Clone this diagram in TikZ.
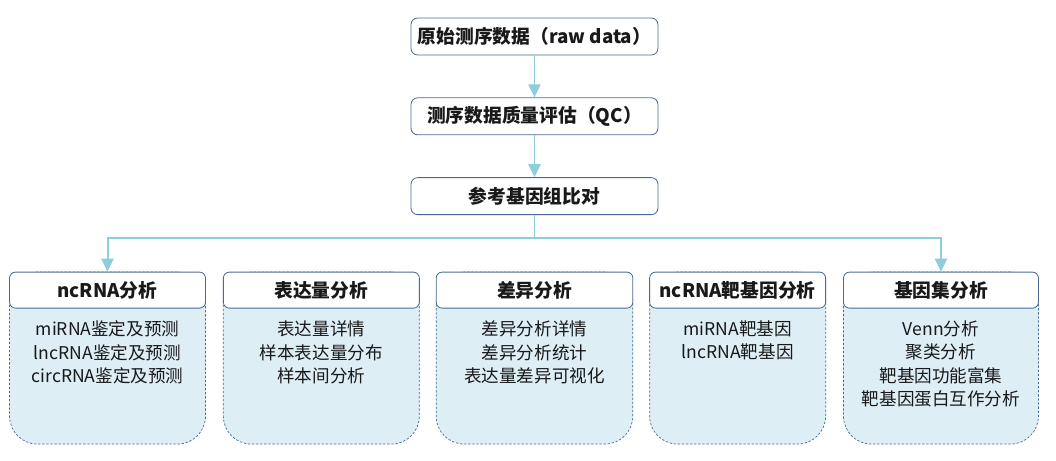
\documentclass[tikz,border=0pt]{standalone}
\usepackage{fontspec}
\setmainfont{Noto Sans CJK SC}
\usetikzlibrary{positioning, arrows.meta, backgrounds}
\definecolor{boxblue}{RGB}{74,106,150}
\definecolor{bodyfill}{RGB}{221,238,245}
\definecolor{lineblue}{RGB}{142,205,220}
\begin{document}
\begin{tikzpicture}[
        topbox/.style = {draw=boxblue, fill=white, line width=0.7pt, minimum height=1.11cm, minimum width=7.41cm, rounded corners=0.2cm, font=\fontsize{16pt}{20pt}\selectfont\bfseries, text=black!90},%
        head/.style = {draw=boxblue, fill=white, line width=0.7pt, minimum height=1.08cm, rounded corners=0.18cm, font=\fontsize{16pt}{20pt}\selectfont\bfseries, text=black!90},%
        body/.style = {draw=boxblue, fill=bodyfill, line width=0.6pt, dash pattern=on 2pt off 1.5pt, minimum height=5.16cm, rounded corners=0.84cm, anchor=north},%
        list/.style = {inner sep=0pt, align=center, font=\fontsize{15pt}{20pt}\selectfont, text=black!90},%
        link/.style = {draw=lineblue, line width=1.7pt},%
        flow/.style = {link, -{Triangle[length=0.39cm, width=0.36cm]}}%
    ]%
        \useasboundingbox (-16.035,1.095) rectangle (15.645,-12.735);
        \node[topbox] (raw) at (0,0) {原始测序数据（raw data）};
        \node[topbox, below=1.26cm of raw] (qc) {测序数据质量评估（QC）};
        \node[topbox, below=1.26cm of qc] (ref) {参考基因组比对};
        \coordinate[below=0.7cm of ref.south] (split);
        \node[head, minimum width=5.9cm, below=1.7cm of ref] (h3) {差异分析};
        \node[head, minimum width=5.88cm, left=0.48cm of h3] (h2) {表达量分析};
        \node[head, minimum width=5.88cm, left=0.51cm of h2] (h1) {ncRNA分析};
        \node[head, minimum width=5.28cm, right=0.48cm of h3] (h4) {ncRNA靶基因分析};
        \node[head, minimum width=5.85cm, right=0.51cm of h4] (h5) {基因集分析};
        \begin{scope}[on background layer]
            \node[body, minimum width=5.88cm] (b1) at (h1.north) {};
            \node[body, minimum width=5.88cm] (b2) at (h2.north) {};
            \node[body, minimum width=5.9cm] (b3) at (h3.north) {};
            \node[body, minimum width=5.28cm] (b4) at (h4.north) {};
            \node[body, minimum width=5.85cm] (b5) at (h5.north) {};
        \end{scope}
        \node[list, below=0.36cm of h1] (t1) {miRNA鉴定及预测\\lncRNA鉴定及预测\\circRNA鉴定及预测};
        \node[list, below=0.36cm of h2] (t2) {表达量详情\\样本表达量分布\\样本间分析};
        \node[list, below=0.36cm of h3] (t3) {差异分析详情\\差异分析统计\\表达量差异可视化};
        \node[list, below=0.36cm of h4] (t4) {miRNA靶基因\\lncRNA靶基因};
        \node[list, below=0.36cm of h5] (t5) {Venn分析\\聚类分析\\靶基因功能富集\\靶基因蛋白互作分析};
        \draw[flow] (raw) -- (qc);
        \draw[flow] (qc) -- (ref);
        \draw[link] (ref) -- (split);
        \draw[flow] (split) -| (h1);
        \draw[flow] (split) -| (h5);
    \end{tikzpicture}
\end{document}
